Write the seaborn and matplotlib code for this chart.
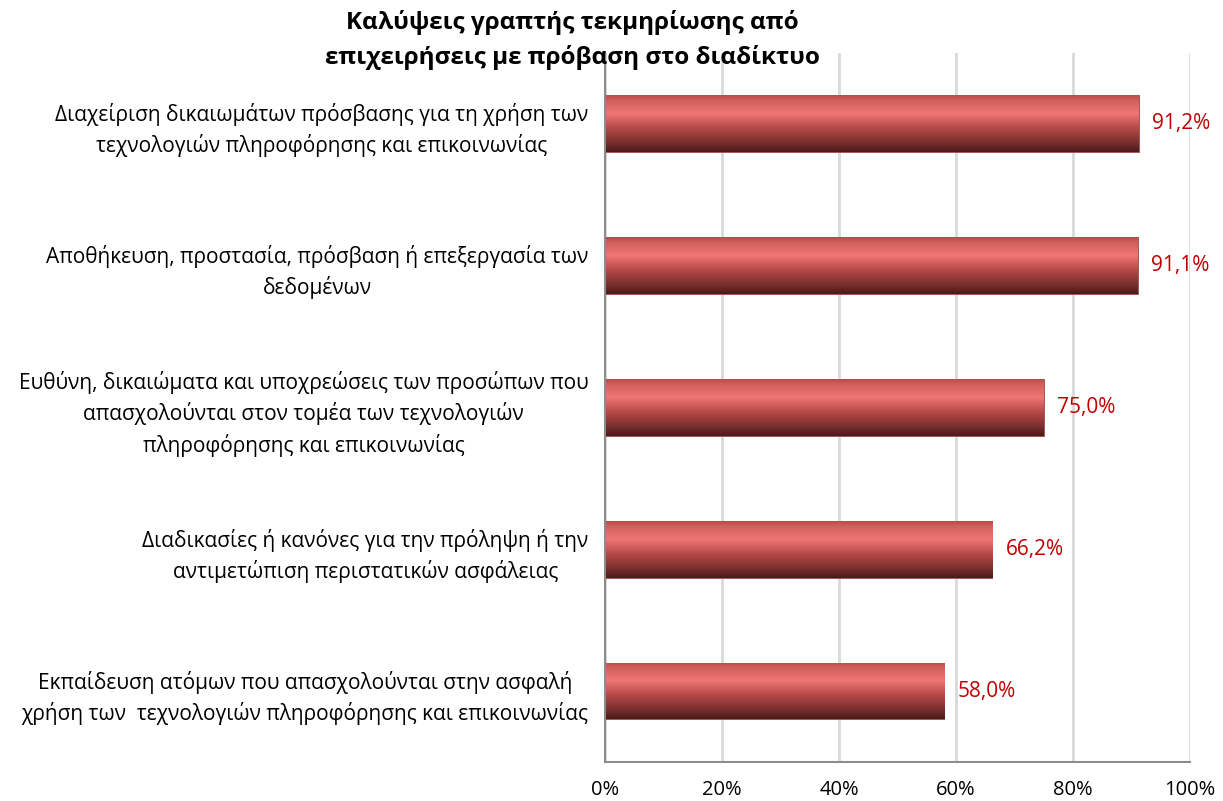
import numpy as np
import pandas as pd
import matplotlib
matplotlib.use("Agg")
import matplotlib.pyplot as plt
from matplotlib.colors import LinearSegmentedColormap
import seaborn as sns

# data
categories = [
    "Διαχείριση δικαιωμάτων πρόσβασης για τη χρήση των\nτεχνολογιών πληροφόρησης και επικοινωνίας",
    "Αποθήκευση, προστασία, πρόσβαση ή επεξεργασία των\nδεδομένων",
    "Ευθύνη, δικαιώματα και υποχρεώσεις των προσώπων που\nαπασχολούνται στον τομέα των τεχνολογιών\nπληροφόρησης και επικοινωνίας",
    "Διαδικασίες ή κανόνες για την πρόληψη ή την\nαντιμετώπιση περιστατικών ασφάλειας",
    "Εκπαίδευση ατόμων που απασχολούνται στην ασφαλή\nχρήση των  τεχνολογιών πληροφόρησης και επικοινωνίας",
]
values = [91.2, 91.1, 75.0, 66.2, 58.0]
xticks = [0, 20, 40, 60, 80, 100]
xtick_labels = ["0%", "20%", "40%", "60%", "80%", "100%"]
title = "Καλύψεις γραπτής τεκμηρίωσης από\nεπιχειρήσεις με πρόβαση στο διαδίκτυο"

df = pd.DataFrame({"label": categories, "value": values})

sns.set_style("white")
plt.rcParams["font.family"] = ["Open Sans", "DejaVu Sans"]
plt.rcParams["text.color"] = "black"
plt.rcParams["xtick.color"] = "black"
plt.rcParams["ytick.color"] = "black"

fig = plt.figure(figsize=(12.23, 8.01), dpi=100)
ax = fig.add_axes([0.4947, 0.0487, 0.4783, 0.8853])

sns.barplot(data=df, x="value", y="label", color="#c0504d", width=0.4, ax=ax)

# cylinder-like shading on each bar
shade = LinearSegmentedColormap.from_list(
    "shade",
    [(0.0, "#b84a47"), (0.08, "#cf5e5b"), (0.32, "#ef7673"), (0.58, "#b44947"),
     (0.82, "#7c302f"), (1.0, "#4a1a1a")],
)
grad = np.linspace(0, 1, 256).reshape(-1, 1)
for p in ax.patches:
    x0, y0, w, h = p.get_x(), p.get_y(), p.get_width(), p.get_height()
    p.set_edgecolor("#9c4a48")
    p.set_linewidth(0.6)
    im = ax.imshow(grad, cmap=shade, aspect="auto", origin="upper",
                   extent=(x0, x0 + w, y0 + h, y0), zorder=p.get_zorder() + 0.1)
    im.set_clip_path(p)

for i, v in enumerate(values):
    ax.text(v + 2.3, i, f"{v:.1f}".replace(".", ",") + "%", color="#c00000",
            fontsize=15, va="center", ha="left")

ax.set_xlim(0, 100)
ax.set_ylim(4.5, -0.5)
ax.set_xticks(xticks)
ax.set_xticklabels(xtick_labels, fontsize=14.5)
ax.tick_params(axis="x", length=0, pad=13)
ax.tick_params(axis="y", length=0, pad=12)
for lab in ax.get_yticklabels():
    lab.set_fontsize(15)
    lab.set_multialignment("center")
    lab.set_linespacing(1.45)
ax.set_xlabel("")
ax.set_ylabel("")

ax.grid(axis="x", color="#d9d9d9", linewidth=2)
ax.set_axisbelow(True)
for s in ["top", "right"]:
    ax.spines[s].set_visible(False)
for s in ["left", "bottom"]:
    ax.spines[s].set_color("#8c8c8c")
    ax.spines[s].set_linewidth(1.5)

fig.text(0.468, 0.988, title, ha="center", va="top", fontsize=17.5,
         fontweight="bold", linespacing=1.55)

fig.savefig("out.png", dpi=100)
